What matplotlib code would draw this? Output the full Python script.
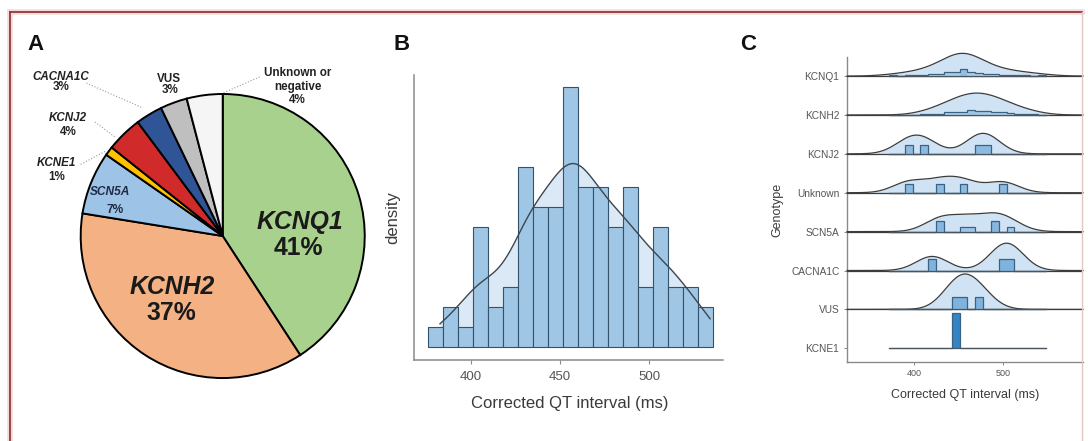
import numpy as np
import matplotlib.pyplot as plt
from matplotlib.lines import Line2D
from matplotlib.colors import LinearSegmentedColormap

plt.rcParams["font.family"] = ["Liberation Sans", "DejaVu Sans"]

# ---------------- data ----------------
# Panel A: genotype counts (98 patients)
pie_names = ["KCNQ1", "KCNH2", "SCN5A", "KCNE1", "KCNJ2", "CACNA1C", "VUS", "Unknown or negative"]
pie_counts = [40, 36, 7, 1, 4, 3, 3, 4]
pie_pct = ["41%", "37%", "7%", "1%", "4%", "3%", "3%", "4%"]

# Panel B: QTc histogram, all patients
qtc_lo, qtc_hi = 376.0, 536.0          # histogram range (ms)
qtc_min, qtc_max = 382.6, 534.3        # data range used for the density curve
qtc_counts = [1, 2, 1, 6, 2, 3, 9, 7, 7, 13, 8, 8, 6, 8, 3, 6, 3, 3, 2]

# Panel C: QTc per genotype, counts in 20 bins between geno_lo and geno_hi
geno_lo, geno_hi = 371.5, 548.0
geno_names = ["KCNE1", "VUS", "CACNA1C", "SCN5A", "Unknown", "KCNJ2", "KCNH2", "KCNQ1"]
kcnq1_counts = [1, 0, 1, 1, 1, 2, 2, 4, 4, 8, 4, 3, 2, 2, 1, 1, 1, 1, 0, 1]
kcnh2_counts = [0, 0, 0, 0, 1, 1, 1, 3, 3, 3, 5, 4, 4, 3, 3, 2, 1, 1, 1, 0]
kcnj2_counts = [0, 0, 1, 0, 1, 0, 0, 0, 0, 0, 0, 1, 1, 0, 0, 0, 0, 0, 0, 0]
unknown_counts = [0, 0, 1, 0, 0, 0, 1, 0, 0, 1, 0, 0, 0, 0, 1, 0, 0, 0, 0, 0]
scn5a_counts = [0, 0, 0, 0, 0, 0, 2, 0, 0, 1, 1, 0, 0, 2, 0, 1, 0, 0, 0, 0]
cacna1c_counts = [0, 0, 0, 0, 0, 1, 0, 0, 0, 0, 0, 0, 0, 0, 1, 1, 0, 0, 0, 0]
vus_counts = [0, 0, 0, 0, 0, 0, 0, 0, 1, 1, 0, 1, 0, 0, 0, 0, 0, 0, 0, 0]
kcne1_counts = [0, 0, 0, 0, 0, 0, 0, 0, 1, 0, 0, 0, 0, 0, 0, 0, 0, 0, 0, 0]

geno_counts = {
    "KCNQ1": kcnq1_counts, "KCNH2": kcnh2_counts, "KCNJ2": kcnj2_counts,
    "Unknown": unknown_counts, "SCN5A": scn5a_counts, "CACNA1C": cacna1c_counts,
    "VUS": vus_counts, "KCNE1": kcne1_counts,
}


def kde(grid, centers, weights, bw):
    w = np.asarray(weights, float)
    z = (grid[:, None] - centers[None, :]) / bw
    return (np.exp(-0.5 * z ** 2) * w).sum(axis=1) / (w.sum() * bw * np.sqrt(2 * np.pi))


fig = plt.figure(figsize=(10.88, 4.41), dpi=100)
W, H = 1088, 441
text_dark = "#3a3a3a"
axis_grey = "#8a8a8a"

# ---------------- Panel A ----------------
ax_a = fig.add_axes([0.0209, 0.0113, 0.3676, 0.907])
pie_colors = ["#a9d18e", "#f4b183", "#9dc3e6", "#ffc000", "#d02a2a", "#2f5597", "#bfbfbf", "#f5f5f5"]
ax_a.pie(pie_counts, colors=pie_colors, startangle=90, counterclock=False,
         wedgeprops=dict(edgecolor="black", linewidth=1.4))
ax_a.set_xlim(-1.408, 1.408)
ax_a.set_ylim(-1.408, 1.408)
ax_a.set_aspect("equal")
ax_a.axis("off")

big = dict(fontsize=17.8, fontweight="bold", ha="center", va="center", color="#1a1a1a")
ax_a.text(0.544, 0.101, pie_names[0], style="italic", **big)
ax_a.text(0.530, -0.085, pie_pct[0], **big)
ax_a.text(-0.359, -0.359, pie_names[1], style="italic", **big)
ax_a.text(-0.359, -0.542, pie_pct[1], **big)

mid = dict(fontsize=8.6, fontweight="bold", ha="center", va="center", color="#1f2a44")
ax_a.text(-0.794, 0.312, pie_names[2], style="italic", **mid)
ax_a.text(-0.758, 0.183, pie_pct[2], **mid)

small = dict(fontsize=8.4, fontweight="bold", ha="center", va="center", color="#222222")
ax_a.text(-1.169, 0.512, pie_names[3], style="italic", **small)
ax_a.text(-1.169, 0.418, pie_pct[3], **small)
ax_a.text(-1.087, 0.829, pie_names[4], style="italic", **small)
ax_a.text(-1.087, 0.735, pie_pct[4], **small)
ax_a.text(-1.141, 1.122, pie_names[5], style="italic", **small)
ax_a.text(-1.141, 1.047, pie_pct[5], **small)
ax_a.text(-0.378, 1.106, pie_names[6], **small)
ax_a.text(-0.371, 1.028, pie_pct[6], **small)
ax_a.text(0.528, 1.150, "Unknown or", **small)
ax_a.text(0.528, 1.047, "negative", **small)
ax_a.text(0.528, 0.958, pie_pct[7], **small)

lead = dict(color="#9a9a9a", lw=0.8, ls=":")
ax_a.plot([-0.960, -0.561], [1.077, 0.901], **lead)
ax_a.plot([-0.900, -0.758], [0.803, 0.697], **lead)
ax_a.plot([-1.000, -0.820], [0.505, 0.600], **lead)
ax_a.plot([0.260, 0.002], [1.120, 1.007], **lead)

# ---------------- Panel B ----------------
ax_b = fig.add_axes([414 / W, 1 - 360 / H, 308.7 / W, 285 / H])
edges_b = np.linspace(qtc_lo, qtc_hi, len(qtc_counts) + 1)
centers_b = (edges_b[:-1] + edges_b[1:]) / 2
bw_b = edges_b[1] - edges_b[0]
grid_b = np.linspace(qtc_min, qtc_max, 300)
dens_b = kde(grid_b, centers_b, qtc_counts, 11.0) * sum(qtc_counts) * bw_b

ax_b.fill_between(grid_b, 0, dens_b, color="#dbe8f5", lw=0, zorder=1)
ax_b.bar(edges_b[:-1], qtc_counts, width=np.diff(edges_b), align="edge",
         color="#9fc6e4", edgecolor="#33526b", linewidth=0.8, zorder=2)
ax_b.plot(grid_b, dens_b, color="#3b4650", lw=1.0, zorder=3)

ax_b.set_xlim(368, 541.4)
ax_b.set_ylim(-0.63, 13.6)
ax_b.set_xticks([400, 450, 500])
ax_b.set_yticks([])
for s in ["top", "right"]:
    ax_b.spines[s].set_visible(False)
for s in ["left", "bottom"]:
    ax_b.spines[s].set_color(axis_grey)
    ax_b.spines[s].set_linewidth(1.1)
ax_b.tick_params(axis="x", colors=axis_grey, labelcolor="#555555", labelsize=9.5,
                 length=3, width=0.8, pad=5)
ax_b.set_xlabel("Corrected QT interval (ms)", fontsize=12, color=text_dark, va="center")
ax_b.xaxis.set_label_coords(0.505, -0.151)
ax_b.set_ylabel("density", fontsize=12, color=text_dark, va="center")
ax_b.yaxis.set_label_coords(-0.068, 0.5)

# ---------------- Panel C ----------------
ax_c = fig.add_axes([847 / W, 1 - 361.7 / H, 236 / W, 304.7 / H])
edges_c = np.linspace(geno_lo, geno_hi, len(kcnq1_counts) + 1)
centers_c = (edges_c[:-1] + edges_c[1:]) / 2
bw_c = edges_c[1] - edges_c[0]
grid_c = np.linspace(324, 590, 500)

dens_c, hist_c = {}, {}
for name in geno_names:
    c = np.asarray(geno_counts[name], float)
    n = c.sum()
    hist_c[name] = c / (n * bw_c)
    if n >= 2:
        dens_c[name] = kde(grid_c, centers_c, c, 18.0)
d_scale = 0.91 / max(d.max() for d in dens_c.values())
h_max = max(h.max() for h in hist_c.values())
h_scale = 0.92 / h_max
bar_cmap = LinearSegmentedColormap.from_list("bars", ["#cfe3f5", "#3585c4"])

for i, name in enumerate(geno_names):
    y0 = i + 1
    z = 10 - i
    if name in dens_c:
        top = y0 + dens_c[name] * d_scale
        ax_c.fill_between(grid_c, y0, top, color="#d0e3f4", lw=0, zorder=z, clip_on=False)
        ax_c.plot(grid_c, top, color="#3c3c3c", lw=0.9, zorder=z + 0.1, clip_on=False)
        ax_c.plot([grid_c[0], grid_c[-1]], [y0, y0], color="#3c3c3c", lw=0.9, zorder=z + 0.1)

for i, name in enumerate(geno_names):
    y0 = i + 1
    z = 30 - i
    h = hist_c[name]
    vals = y0 + h * h_scale
    shade = (h / h_max) ** 0.6
    keep = h > 0
    ax_c.bar(edges_c[:-1][keep], (h * h_scale)[keep], width=bw_c, bottom=y0, align="edge",
             color=bar_cmap(shade[keep]), lw=0, zorder=z)
    ax_c.stairs(vals, edges_c, baseline=y0, fill=False, color="#3a6383", lw=0.9,
                zorder=z + 0.1)
    ax_c.plot([geno_lo, geno_hi], [y0, y0], color="#4a5560", lw=0.9, zorder=z + 0.1)

ax_c.set_xlim(324, 590)
ax_c.set_ylim(1 - 0.345, 8.49)
ax_c.set_xticks([400, 500])
ax_c.set_yticks(range(1, len(geno_names) + 1))
ax_c.set_yticklabels(geno_names)
for s in ["top", "right"]:
    ax_c.spines[s].set_visible(False)
for s in ["left", "bottom"]:
    ax_c.spines[s].set_color(axis_grey)
    ax_c.spines[s].set_linewidth(1.0)
ax_c.tick_params(axis="both", colors=axis_grey, labelcolor="#555555", length=2.5, width=0.7)
ax_c.tick_params(axis="x", labelsize=6.5, pad=3)
ax_c.tick_params(axis="y", labelsize=7.3, pad=3)
ax_c.set_xlabel("Corrected QT interval (ms)", fontsize=9, color=text_dark, va="center")
ax_c.xaxis.set_label_coords(0.5, -0.109)
ax_c.set_ylabel("Genotype", fontsize=9, color=text_dark, va="center")
ax_c.yaxis.set_label_coords(-0.297, 0.498)

# ---------------- panel letters and frame ----------------
for letter, x, y in [("A", 35, 45), ("B", 402, 44), ("C", 748, 44)]:
    fig.text(x / W, 1 - y / H, letter, fontsize=16, fontweight="bold",
             ha="center", va="center", color="#111111")

x_l, x_r, y_t = 10 / W, 1082 / W, 1 - 12 / H
for color, lw in [("#f6dada", 4.0), ("#8e3b3b", 1.3)]:
    fig.add_artist(Line2D([x_l, x_l], [-0.02, y_t], color=color, lw=lw))
    fig.add_artist(Line2D([x_l, x_r], [y_t, y_t], color=color, lw=lw))
fig.add_artist(Line2D([x_r, x_r], [-0.02, y_t], color="#e2c6c6", lw=1.0))

fig.savefig("out.png", dpi=100)
